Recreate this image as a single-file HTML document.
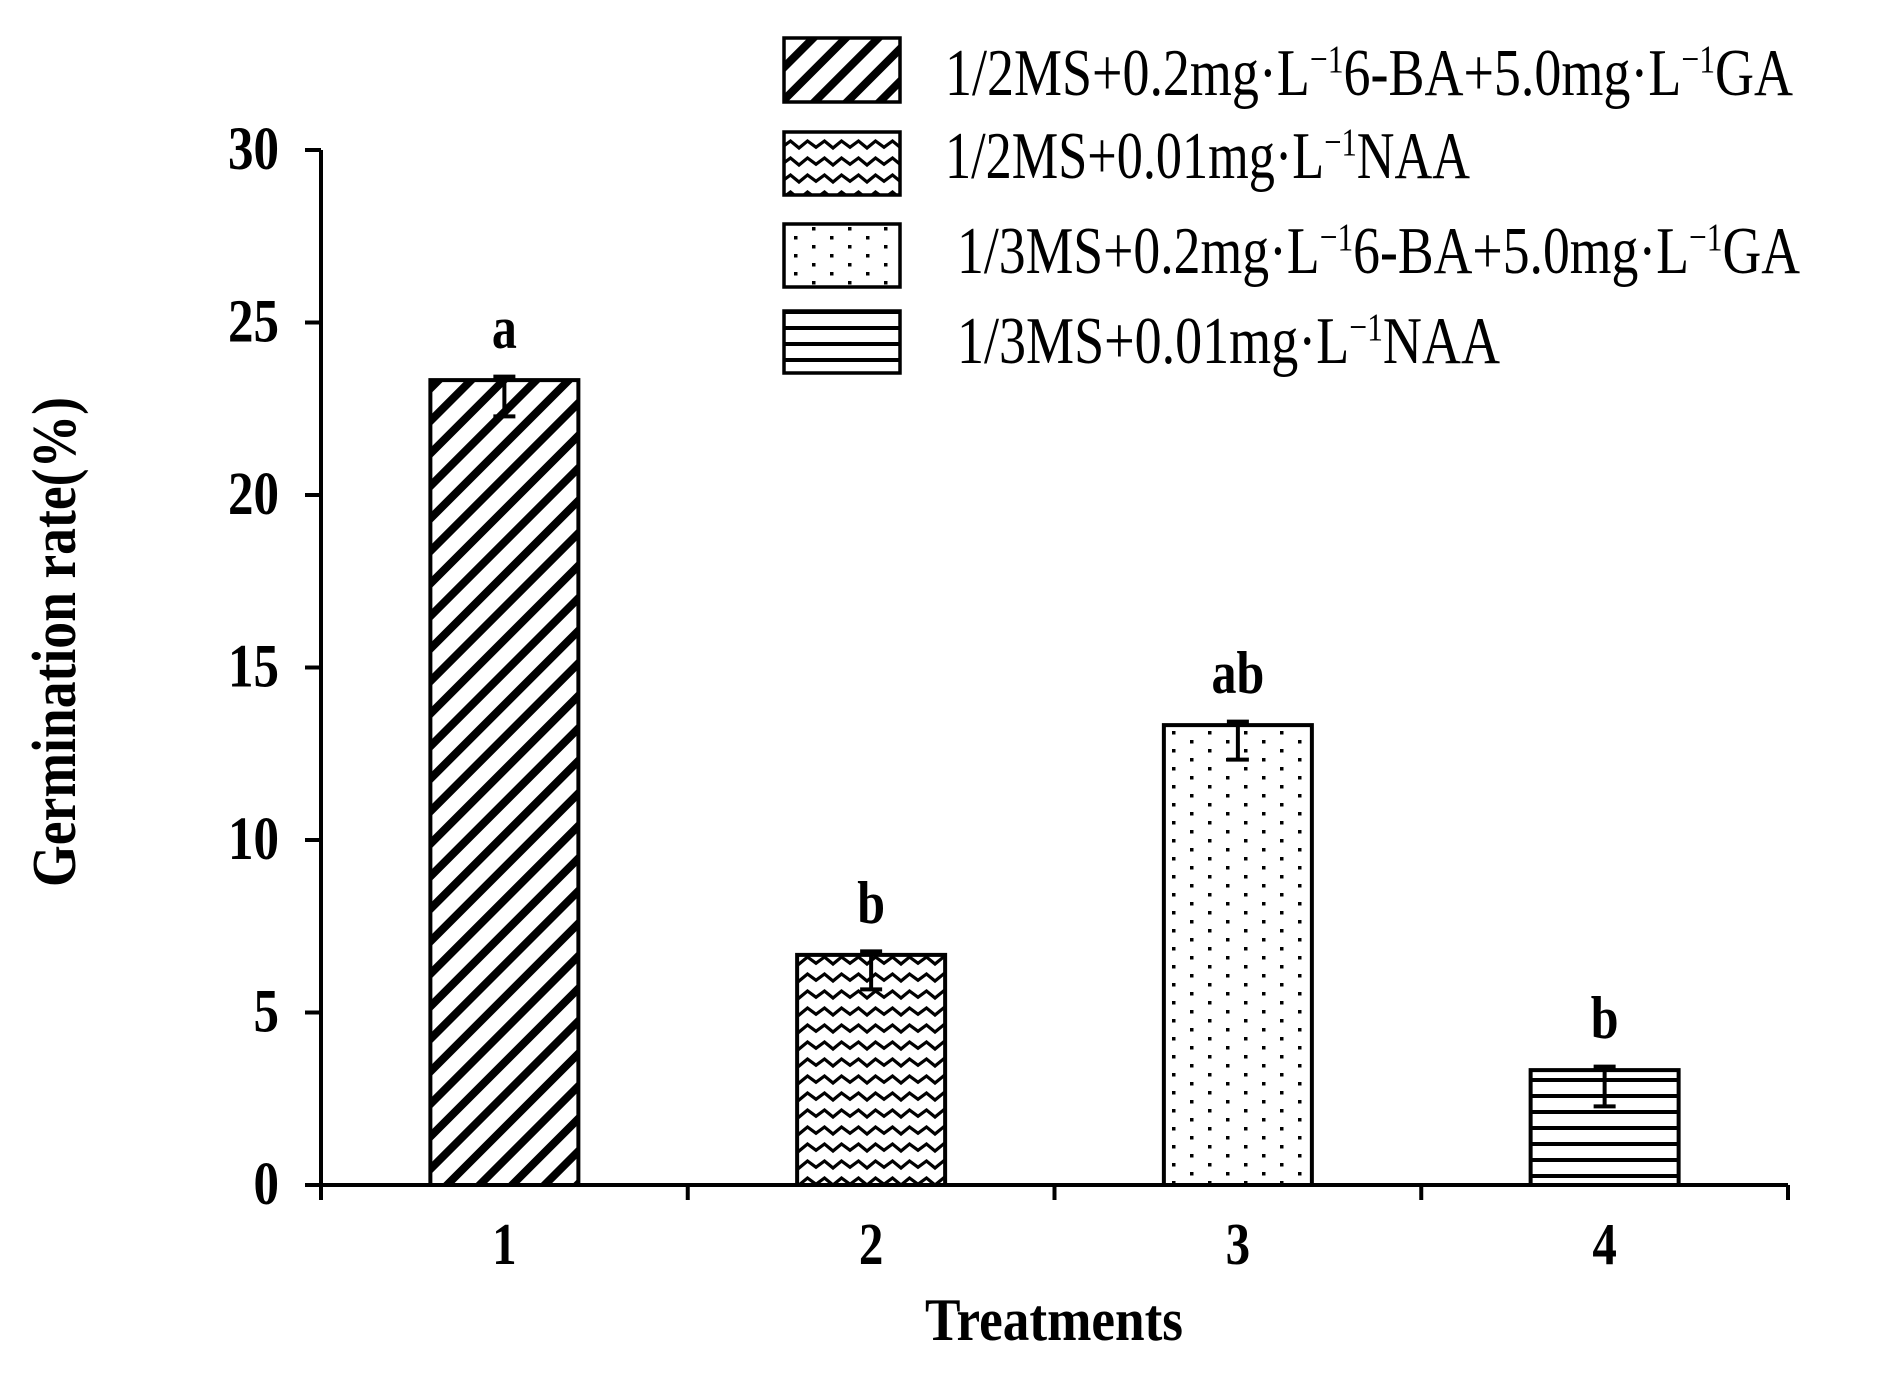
<!DOCTYPE html>
<html><head><meta charset="utf-8"><style>
html,body{margin:0;padding:0;background:#fff;}
svg{display:block;}
text{font-family:"Liberation Serif",serif;fill:#000;}
</style></head><body>
<svg id="chart" width="1880" height="1385" viewBox="0 0 1880 1385" xmlns="http://www.w3.org/2000/svg">
<defs>
<pattern id="p-diag" patternUnits="userSpaceOnUse" width="23" height="23" patternTransform="rotate(45)">
<rect x="0" y="0" width="8" height="23" fill="#000"/></pattern>
<pattern id="p-wave" patternUnits="userSpaceOnUse" width="34" height="17">
<path d="M-1 12 L8.5 5 L17 12 L25.5 5 L35 12" fill="none" stroke="#000" stroke-width="3.2"/></pattern>
<pattern id="p-dots" patternUnits="userSpaceOnUse" width="36" height="18">
<rect x="2" y="2" width="3.5" height="3.5" fill="#000"/><rect x="20" y="11" width="3.5" height="3.5" fill="#000"/></pattern>
<pattern id="p-hlines" patternUnits="userSpaceOnUse" width="20" height="16">
<rect x="0" y="6" width="20" height="4" fill="#000"/></pattern>
</defs>
<g id="plot"></g>
</svg>
<script>
const categories = ["1","2","3","4"];
const values = [23.33, 6.67, 13.33, 3.33];
const errUp = [0.1, 0.1, 0.1, 0.1];
const errDown = [1.05, 1.0, 1.0, 1.05];
const sigLetters = ["a","b","ab","b"];
const yTicks = [0,5,10,15,20,25,30];
const legendLabels = [
 ["1/2MS+0.2mg·L","−1","6-BA+5.0mg·L","−1","GA"],
 ["1/2MS+0.01mg·L","−1","NAA"],
 ["1/3MS+0.2mg·L","−1","6-BA+5.0mg·L","−1","GA"],
 ["1/3MS+0.01mg·L","−1","NAA"]
];
const fills = ["url(#p-diag)","url(#p-wave)","url(#p-dots)","url(#p-hlines)"];

const NS="http://www.w3.org/2000/svg";
const g=document.getElementById('plot');
const X0=321, X1=1788, Y0=1185, Y30=150;
const yScale=v=>Y0-(v/30)*(Y0-Y30);
const band=(X1-X0)/categories.length;
const xCenter=i=>X0+band*(i+0.5);
const barW=148;
function mk(tag,attrs,parent){const e=document.createElementNS(NS,tag);for(const k in attrs)e.setAttribute(k,attrs[k]);(parent||g).appendChild(e);return e;}

let ya=mk('line',{x1:X0,y1:Y30,x2:X0,y2:Y0+15,stroke:'#000','stroke-width':4});


let xa=mk('line',{x1:X0-16,y1:Y0,x2:X1,y2:Y0,stroke:'#000','stroke-width':4});


yTicks.forEach(t=>{
 const y=yScale(t);
 let tk=mk('line',{x1:X0-16,y1:y,x2:X0,y2:y,stroke:'#000','stroke-width':4});
 
 
 let tl=mk('text',{x:0,y:0,transform:`translate(279,${y+19}) scale(1,1.2)`,'text-anchor':'end','font-size':51,'font-weight':'bold'});
 tl.textContent=t;
 
 
});
for(let i=0;i<=categories.length;i++){
 const x=X0+band*i;
 let tk=mk('line',{x1:x,y1:Y0,x2:x,y2:Y0+15,stroke:'#000','stroke-width':4});
 
 
}
categories.forEach((c,i)=>{
 const cx=xCenter(i);
 let tl=mk('text',{x:0,y:0,transform:`translate(${cx},1264) scale(1,1.2)`,'text-anchor':'middle','font-size':49,'font-weight':'bold'});
 tl.textContent=c;
 
 
 const top=yScale(values[i]);
 let b=mk('rect',{x:cx-barW/2,y:top,width:barW,height:Y0-top,fill:fills[i],stroke:'#000','stroke-width':4});
 
 
 const yu=yScale(values[i]+errUp[i]), yd=yScale(values[i]-errDown[i]);
 let eb=mk('path',{d:`M${cx-11} ${yu}H${cx+11}M${cx} ${yu}V${yd}M${cx-11} ${yd}H${cx+11}`,stroke:'#000','stroke-width':4,fill:'none'});
 
 
 let sl=mk('text',{x:0,y:0,transform:`translate(${cx},${top-32}) scale(1,1.2)`,'text-anchor':'middle','font-size':50,'font-weight':'bold'});
 sl.textContent=sigLetters[i];
 
 
});
let xt=mk('text',{x:0,y:0,transform:'translate(1054,1340) scale(1,1.2)','text-anchor':'middle','font-size':50,'font-weight':'bold',textLength:258,lengthAdjust:'spacingAndGlyphs'});
xt.textContent='Treatments';


let yt=mk('text',{x:0,y:0,'text-anchor':'middle','font-size':62,'font-weight':'bold',transform:'translate(75,642) rotate(-90)',textLength:490,lengthAdjust:'spacingAndGlyphs'});
yt.textContent='Germination rate(%)';


const boxY=[38,132,224,311], boxH=[64,63,63,62], baseY=[95,178,273,363], textStart=[945,945,957,957], textEnd=[1793,1470,1800,1500];
legendLabels.forEach((parts,i)=>{
 let r=mk('rect',{x:784,y:boxY[i],width:116,height:boxH[i],fill:fills[i],stroke:'#000','stroke-width':3.5});
 
 
 let t=mk('text',{x:0,y:0,transform:`translate(${textStart[i]},${baseY[i]}) scale(1,1.15)`,'font-size':58,textLength:textEnd[i]-textStart[i],lengthAdjust:'spacingAndGlyphs'});
 
 
 parts.forEach((p,k)=>{
  const s=document.createElementNS(NS,'tspan');
  s.textContent=p;
  if(p==='−1'){s.setAttribute('font-size','34');s.setAttribute('dy','-20');}
  else if(k>0){s.setAttribute('dy','20');}
  t.appendChild(s);
 });
});
</script>
</body></html>
